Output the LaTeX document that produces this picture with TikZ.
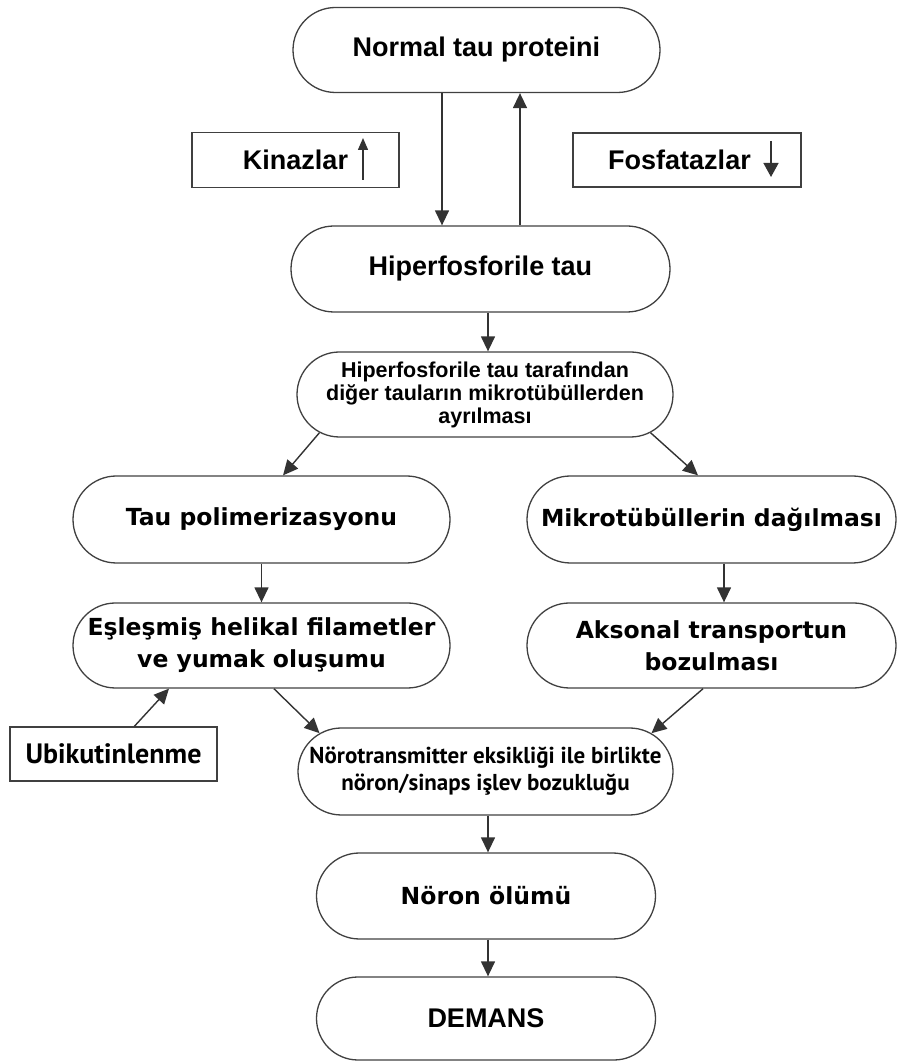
\documentclass[tikz,border=0pt]{standalone}
\usepackage{fontspec}
\setmainfont{Liberation Sans}
\newfontfamily\verdfont{DejaVu Sans}
\newfontfamily\myrfont{PT Sans}
\usetikzlibrary{arrows.meta,shapes.misc}

\tikzset{
  pill/.style={rounded rectangle, draw=black!75, line width=1.3pt, inner sep=0pt, align=center},
  flatbox/.style={rectangle, draw=black!75, line width=1.3pt, inner sep=0pt, align=center},
  arialtxt/.style={font=\fontsize{27}{32}\selectfont\bfseries},
  verdtxt/.style={font=\verdfont\fontsize{23.5}{32}\selectfont\bfseries},
  arr/.style={draw=black!80, line width=1.4pt, -{Triangle[length=15pt,width=14pt]}},
}

\begin{document}
\begin{tikzpicture}[x=1pt,y=1pt]
            \useasboundingbox (0,0) rectangle (898,1061);
            \coordinate (dn) at (442,0);
            \coordinate (up) at (520,0);
            \coordinate (mid) at (488,0);
            \coordinate (rt) at (724,0);

            % top part
            \node[pill,arialtxt,minimum width=367pt,minimum height=85pt] (normal) at (476.5,1011) {Normal tau proteini};
            \node[flatbox,arialtxt,minimum width=207pt,minimum height=55pt] (kinaz) at (295.5,901) {Kinazlar};
            \node[flatbox,arialtxt,minimum width=228pt,minimum height=54pt] (fosfat) at (687,901) {Fosfatazlar\hspace{15pt}};
            \node[pill,arialtxt,minimum width=379pt,minimum height=86pt] (hiper) at (480.5,792) {Hiperfosforile tau};
            \node[pill,font=\fontsize{21.5}{23}\selectfont\bfseries,minimum width=376pt,minimum height=85pt] (ayril) at (485,666.5)
                {Hiperfosforile tau tarafından\\diğer tauların mikrotübüllerden\\ayrılması};

            % two branches
            \node[pill,verdtxt,minimum width=377pt,minimum height=87pt] (polim) at (261.5,541.5) {Tau polimerizasyonu};
            \node[pill,verdtxt,minimum width=369pt,minimum height=87pt] (dagil) at (711.5,541.5) {Mikrotübüllerin dağılması};
            \node[pill,verdtxt,minimum width=377pt,minimum height=85pt] (eslesm) at (261.5,415.5) {Eşleşmiş helikal filametler\\ve yumak oluşumu};
            \node[pill,verdtxt,minimum width=369pt,minimum height=85pt] (akson) at (711.5,415.5) {Aksonal transportun\\bozulması};
            \node[flatbox,font=\myrfont\fontsize{28}{32}\selectfont\bfseries,minimum width=207pt,minimum height=54pt] (ubik) at (113.5,307) {Ubikutinlenme};

            % bottom part
            \node[pill,font=\myrfont\fontsize{23}{27}\selectfont\bfseries,minimum width=375pt,minimum height=87pt] (norot) at (485.5,289.5)
                {Nörotransmitter eksikliği ile birlikte\\nöron/sinaps işlev bozukluğu};
            \node[pill,verdtxt,minimum width=339pt,minimum height=86pt] (olum) at (486,165) {Nöron ölümü};
            \node[pill,arialtxt,minimum width=339pt,minimum height=83pt] (demans) at (486,42.5) {DEMANS};

            % arrows
            \draw[arr] (normal.south -| dn) -- (hiper.north -| dn);
            \draw[arr] (hiper.north -| up) -- (normal.south -| up);
            \draw[arr] (hiper.south -| mid) -- (ayril.north -| mid);
            \draw[arr] (ayril.193) -- (polim.64);
            \draw[arr] (ayril.347) -- (dagil.107);
            \draw[arr] (polim.south) -- (eslesm.north);
            \draw[arr] (dagil.south -| rt) -- (akson.north -| rt);
            \draw[arr] (ubik.53) -- (eslesm.205);
            \draw[arr] (eslesm.286) -- (norot.167);
            \draw[arr] (akson.259) -- (norot.13);
            \draw[arr] (norot.south -| mid) -- (olum.north -| mid);
            \draw[arr] (olum.south -| mid) -- (demans.north -| mid);

            % small arrows in the boxes
            \draw[arr,-{Triangle[length=12pt,width=10pt]}] ([xshift=67.5pt,yshift=-20pt]kinaz.center) -- ([xshift=67.5pt,yshift=22pt]kinaz.center);
            \draw[arr,-{Triangle[length=14pt,width=15pt]}] ([xshift=84pt,yshift=19pt]fosfat.center) -- ([xshift=84pt,yshift=-17pt]fosfat.center);

        \end{tikzpicture}
\end{document}
